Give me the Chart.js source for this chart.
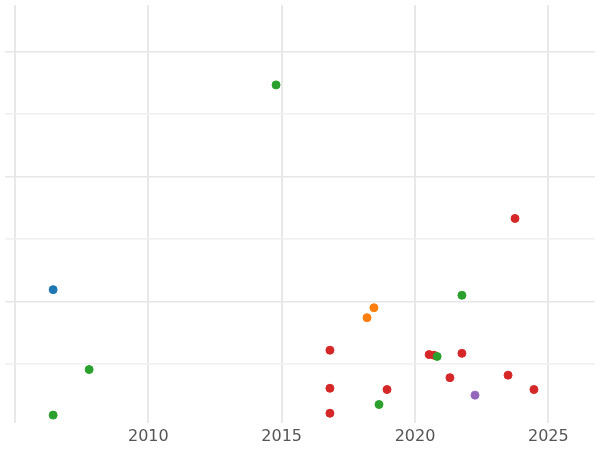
<!DOCTYPE html>
<html>
<head>
<script src="https://cdn.jsdelivr.net/npm/chart.js@4"></script>
<style>
body { margin: 0; background: #fff; }
#wrap { width: 600px; height: 450px; }
</style>
</head>
<body>
<div id="wrap"><canvas id="c"></canvas></div>
<script>
const blueX = [2006.43];
const blueY = [2.19];
const greenX = [2014.79, 2007.78, 2006.43, 2021.76, 2020.83, 2018.65];
const greenY = [5.47, 0.91, 0.18, 2.10, 1.12, 0.35];
const orangeX = [2018.46, 2018.2];
const orangeY = [1.90, 1.74];
const redX = [2023.75, 2016.81, 2020.53, 2020.71, 2021.76, 2016.81, 2018.95, 2021.31, 2023.49, 2024.46, 2016.81];
const redY = [3.33, 1.22, 1.15, 1.14, 1.17, 0.61, 0.59, 0.78, 0.82, 0.59, 0.21];
const purpleX = [2022.25];
const purpleY = [0.50];
const xTicks = [2005, 2010, 2015, 2020, 2025];

function pts(xs, ys) { return xs.map((x, i) => ({x: x, y: ys[i]})); }
function ds(xs, ys, color) {
    return { data: pts(xs, ys), backgroundColor: color, borderColor: color, pointRadius: 4, pointHoverRadius: 4 };
}

new Chart(document.getElementById('c'), {
    type: 'scatter',
    data: {
        datasets: [
            ds(blueX, blueY, '#1f77b4'),
            ds(greenX, greenY, '#2ca02c'),
            ds(orangeX, orangeY, '#ff7f0e'),
            ds(redX, redY, '#d62728'),
            ds(purpleX, purpleY, '#9467bd')
        ]
    },
    options: {
        responsive: true,
        maintainAspectRatio: false,
        animation: false,
        layout: { padding: 0 },
        plugins: { legend: { display: false }, tooltip: { enabled: false } },
        scales: {
            x: {
                type: 'linear', min: 2004.625, max: 2026.75,
                afterBuildTicks: a => { a.ticks = xTicks.map(v => ({value: v})); },
                ticks: { color: '#555', padding: 4, font: { family: 'DejaVu Sans', size: 16 },
                         callback: v => v === 2005 ? '' : String(v) },
                grid: { color: '#e8e8e8', lineWidth: 2, drawTicks: false },
                border: { display: false }
            },
            y: {
                min: 0.057, max: 6.75,
                afterBuildTicks: a => { a.ticks = [1, 2, 3, 4, 5, 6].map(v => ({value: v})); },
                ticks: { display: false },
                grid: { color: ctx => ctx.index % 2 === 0 ? '#f0f0f0' : '#e6e6e6', lineWidth: 1.5, drawTicks: false },
                border: { display: false }
            }
        }
    }
});
</script>
</body>
</html>
